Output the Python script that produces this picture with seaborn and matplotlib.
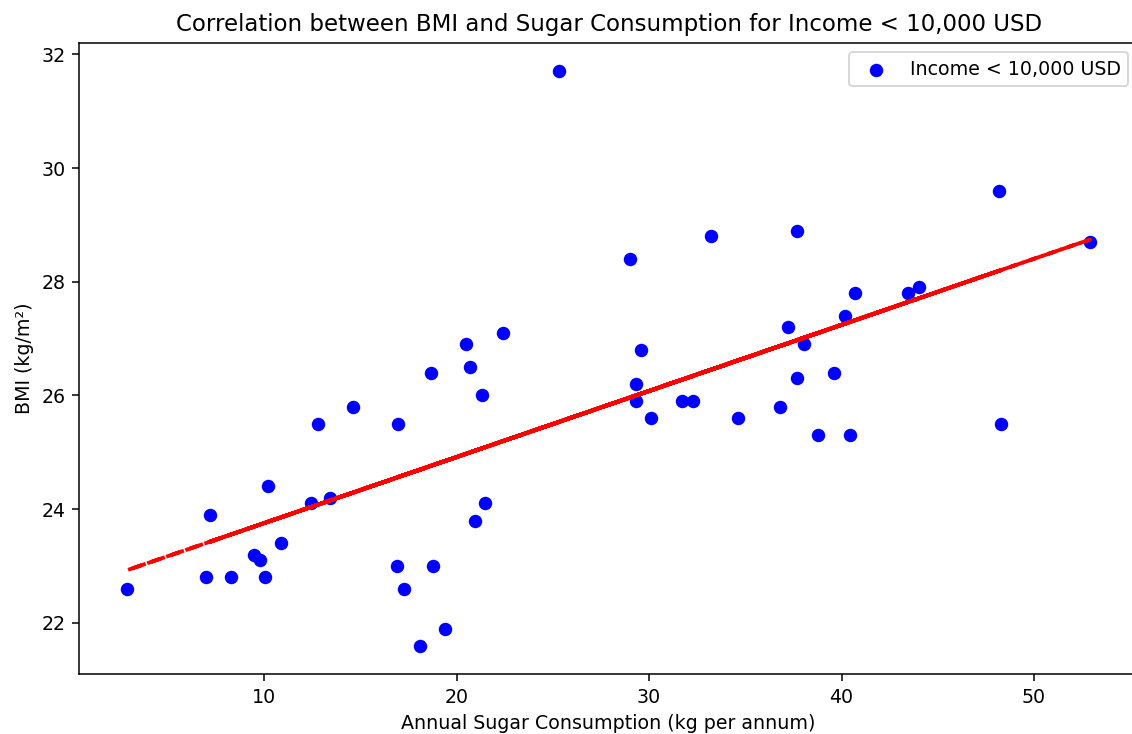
import numpy as np
import pandas as pd
import matplotlib
matplotlib.use("Agg")
import matplotlib.pyplot as plt
import seaborn as sns

# ================= DATA =================
sugar = [2.9, 7.0, 7.2, 8.3, 9.5, 9.8, 10.05, 10.2, 10.9, 12.45,
         12.8, 13.45, 14.6, 16.9, 16.95, 17.25, 18.1, 18.65, 18.8, 19.4,
         20.5, 20.7, 20.95, 21.3, 21.5, 22.4, 25.3, 29.0, 29.3, 29.3,
         29.6, 30.1, 31.7, 32.3, 33.2, 34.6, 36.8, 37.2, 37.7, 37.7,
         38.05, 38.8, 39.6, 40.2, 40.45, 40.7, 43.45, 44.0, 48.2, 48.3,
         52.9]
bmi = [22.6, 22.8, 23.9, 22.8, 23.2, 23.1, 22.8, 24.4, 23.4, 24.1,
       25.5, 24.2, 25.8, 23.0, 25.5, 22.6, 21.6, 26.4, 23.0, 21.9,
       26.9, 26.5, 23.8, 26.0, 24.1, 27.1, 31.7, 28.4, 26.2, 25.9,
       26.8, 25.6, 25.9, 25.9, 28.8, 25.6, 25.8, 27.2, 28.9, 26.3,
       26.9, 25.3, 26.4, 27.4, 25.3, 27.8, 27.8, 27.9, 29.6, 25.5,
       28.7]
series_label = "Income < 10,000 USD"

df = pd.DataFrame({"sugar": sugar, "bmi": bmi})

# linear fit
coef = np.polyfit(df["sugar"], df["bmi"], 1)
trend = np.poly1d(coef)

# trend line drawn through unsorted points (dashes overlap like the original)
line_df = df.sort_values("bmi")

# ================= PLOT =================
fig = plt.figure(figsize=(1132 / 137, 734 / 137), dpi=137)
ax = fig.add_axes([0.0700, 0.0813, 0.9353, 0.8605])

sns.scatterplot(data=df, x="sugar", y="bmi", color="blue", s=50,
                linewidth=0, label=series_label, ax=ax, zorder=2)
ax.plot(line_df["sugar"], trend(line_df["sugar"]), "r--", lw=2, zorder=3)

ax.set_title("Correlation between BMI and Sugar Consumption for Income < 10,000 USD")
ax.set_xlabel("Annual Sugar Consumption (kg per annum)")
ax.set_ylabel("BMI (kg/m²)")
ax.legend(loc="upper right")

fig.savefig("out.png", dpi=137)
